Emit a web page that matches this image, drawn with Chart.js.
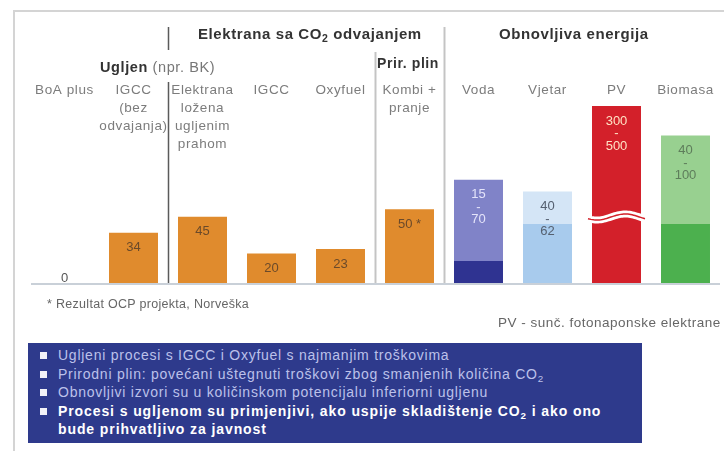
<!DOCTYPE html>
<html>
<head>
<meta charset="utf-8">
<script src="https://cdn.jsdelivr.net/npm/chart.js@4.4.1/dist/chart.umd.min.js"></script>
<style>
  body { margin: 0; background: #fff; font-family: "Liberation Sans", Arial, sans-serif; }
  #wrap { position: relative; width: 724px; height: 451px; overflow: hidden; }
  #okvir { position: absolute; left: 13px; top: 10px; width: 740px; height: 460px; border-left: 2px solid #d4d4d4; border-top: 2px solid #d4d4d4; }
  canvas { position: absolute; left: 0; top: 0; }
  .t { position: absolute; white-space: nowrap; color: #333; }
  .nasl { font-weight: bold; font-size: 15px; letter-spacing: 0.6px; }
  .fus { font-size: 12.5px; color: #666; letter-spacing: 0.3px; }
  #box { position: absolute; left: 28px; top: 343px; width: 614px; height: 100px; background: #2e3a8c; }
  #box ul { list-style: none; margin: 0; padding: 3px 0 0 30px; font-size: 14px; line-height: 18.5px; color: #bcc1ea; letter-spacing: 0.75px; }
  #box li { position: relative; white-space: nowrap; }
  #box li:before { content: ""; position: absolute; left: -18px; top: 6px; width: 7px; height: 7px; background: #f2f2f8; }
  #box li.b { font-weight: bold; color: #fff; letter-spacing: 0.9px; }
  sub { font-size: 70%; vertical-align: -3px; line-height: 0; }
</style>
</head>
<body>
<div id="wrap">
  <div id="okvir"></div>
  <canvas id="grafikon" width="724" height="451"></canvas>

  <div class="t nasl" style="left:198px; top:25px;">Elektrana sa CO<sub>2</sub> odvajanjem</div>
  <div class="t nasl" style="left:499px; top:25px;">Obnovljiva energija</div>
  <div class="t" style="left:100px; top:59px; font-size:14.5px; letter-spacing:0.6px;"><b>Ugljen</b> <span style="color:#777;">(npr. BK)</span></div>
  <div class="t" style="left:377px; top:55px; font-size:14px; font-weight:bold; letter-spacing:0.6px;">Prir. plin</div>

  <div class="t fus" style="left:47px; top:297px;">* Rezultat OCP projekta, Norveška</div>
  <div class="t fus" style="left:498px; top:315px; font-size:13.5px; letter-spacing:0.5px;">PV - sunč. fotonaponske elektrane</div>

  <div id="box">
    <ul>
      <li>Ugljeni procesi s IGCC i Oxyfuel s najmanjim troškovima</li>
      <li>Prirodni plin: povećani uštegnuti troškovi zbog smanjenih količina CO<sub>2</sub></li>
      <li>Obnovljivi izvori su u količinskom potencijalu inferiorni ugljenu</li>
      <li class="b">Procesi s ugljenom su primjenjivi, ako uspije skladištenje CO<sub>2</sub> i ako ono<br>bude prihvatljivo za javnost</li>
    </ul>
  </div>
</div>

<script>
// podaci
var kategorije   = ['BoA plus', 'IGCC\n(bez\nodvajanja)', 'Elektrana\nložena\nugljenim\nprahom', 'IGCC', 'Oxyfuel', 'Kombi +\npranje', 'Voda', 'Vjetar', 'PV', 'Biomasa'];
var troskovi_min = [0, 34, 45, 20, 23, 50, 15, 40, 300, 40];
var troskovi_max = [null, null, null, null, null, null, 70, 62, 500, 100];
var oznake       = ['0', '34', '45', '20', '23', '50 *', '15\n-\n70', '40\n-\n62', '300\n-\n500', '40\n-\n100'];
var granice      = [2, 5, 6];   // okomite crte ispred ovih kategorija

var boje_donje  = ['#e08b2d', '#e08b2d', '#e08b2d', '#e08b2d', '#e08b2d', '#e08b2d', '#2f3391', '#a8cbed', '#d3202a', '#4cb04e'];
var boje_gornje = [null, null, null, null, null, null, '#8083c8', '#d4e5f6', '#d3202a', '#98d090'];
var boje_oznaka = ['#555', '#6b4a2a', '#6b4a2a', '#6b4a2a', '#6b4a2a', '#6b4a2a', '#e4e4fa', '#556070', '#ffe2c4', '#5e7d5b'];

var chart_troskovi;

var rasponi = troskovi_max.map(function (v, i) { return v == null ? null : [troskovi_min[i], v]; });

var crtanje = {
  id: 'crtanje',
  beforeDatasetsDraw: function (chart) {
    var ctx = chart.ctx, a = chart.chartArea, x = chart.scales.x;
    ctx.save();
    // osnovna linija
    ctx.strokeStyle = '#c9d0d8';
    ctx.lineWidth = 2;
    ctx.beginPath(); ctx.moveTo(a.left + 1, a.bottom + 1); ctx.lineTo(a.right, a.bottom + 1); ctx.stroke();
    // okomite crte
    granice.forEach(function (g) {
      var px = Math.round((x.getPixelForValue(g - 1) + x.getPixelForValue(g)) / 2) + 0.5;
      ctx.beginPath();
      if (g == 2) {
        ctx.strokeStyle = '#5a5a5a'; ctx.lineWidth = 1.5;
        ctx.moveTo(px, 27); ctx.lineTo(px, 50);
        ctx.moveTo(px, 82); ctx.lineTo(px, a.bottom);
      } else {
        ctx.strokeStyle = '#c4c4c4'; ctx.lineWidth = 2;
        ctx.moveTo(px, g == 5 ? 52 : 27); ctx.lineTo(px, a.bottom);
      }
      ctx.stroke();
    });
    ctx.restore();
  },
  afterDatasetsDraw: function (chart) {
    var ctx = chart.ctx, a = chart.chartArea;
    var donji = chart.getDatasetMeta(0).data;
    var gornji = chart.getDatasetMeta(1).data;
    ctx.save();
    ctx.textAlign = 'center';
    ctx.textBaseline = 'middle';

    // prijelom na PV stupcu
    var pv = donji[8];
    var w = pv.width + 8, x0 = pv.x - w / 2;
    ctx.beginPath();
    for (var k = 0; k <= 40; k++) {
      var xx = x0 + w * k / 40;
      var yy = 217 + 3 * Math.sin(k / 40 * Math.PI * 2 + 0.6);
      if (k == 0) ctx.moveTo(xx, yy); else ctx.lineTo(xx, yy);
    }
    ctx.strokeStyle = '#fff'; ctx.lineWidth = 7; ctx.stroke();
    ctx.strokeStyle = '#d3202a'; ctx.lineWidth = 1.5; ctx.stroke();

    // oznake vrijednosti
    ctx.font = '13px "Liberation Sans", Arial, sans-serif';
    oznake.forEach(function (txt, i) {
      var bar = donji[i];
      var vrh = troskovi_max[i] != null ? gornji[i].y : bar.y;
      vrh = Math.max(vrh, a.top);
      ctx.fillStyle = boje_oznaka[i];
      if (troskovi_min[i] == 0) { ctx.fillText(txt, bar.x, a.bottom - 5); return; }
      txt.split('\n').forEach(function (l, j) {
        ctx.fillText(l, bar.x, vrh + 15 + j * 12.5);
      });
    });

    // nazivi kategorija
    ctx.font = '13.5px "Liberation Sans", Arial, sans-serif';
    ctx.letterSpacing = '0.6px';
    ctx.fillStyle = '#7c7c7c';
    kategorije.forEach(function (txt, i) {
      var px = chart.scales.x.getPixelForValue(i);
      txt.split('\n').forEach(function (l, j) {
        ctx.fillText(l, px, 90 + j * 18);
      });
    });
    ctx.restore();
  }
};

function grafico_troskovi() {
  var chart_div = document.getElementById('grafikon');
  if (chart_troskovi) { chart_troskovi.destroy(); }

  chart_troskovi = new Chart(chart_div, {
    type: 'bar',
    data: {
      labels: kategorije,
      datasets: [
        { label: 'donji', data: troskovi_min, backgroundColor: boje_donje, grouped: false, barPercentage: 0.71, categoryPercentage: 1 },
        { label: 'raspon', data: rasponi, backgroundColor: boje_gornje, grouped: false, barPercentage: 0.71, categoryPercentage: 1 }
      ]
    },
    options: {
      responsive: false,
      animation: false,
      layout: { padding: { left: 30, top: 106, right: 4, bottom: 168 } },
      scales: {
        x: { display: false },
        y: { display: false, min: 0, max: 120 }
      },
      plugins: { legend: { display: false }, tooltip: { enabled: false } }
    },
    plugins: [crtanje]
  });
}

grafico_troskovi();
</script>
</body>
</html>
